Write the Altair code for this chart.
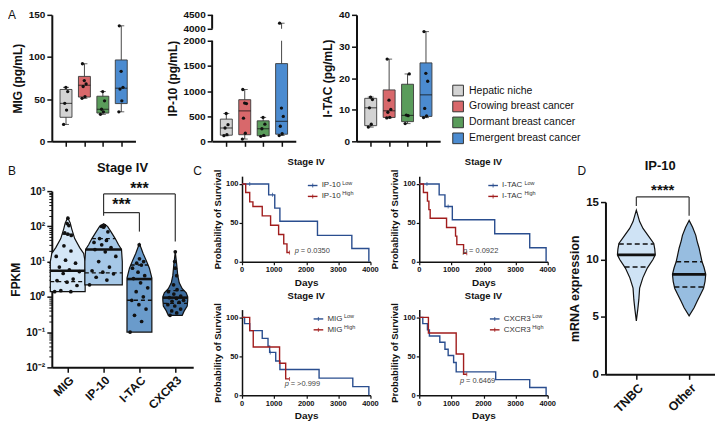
import altair as alt
import numpy as np
import pandas as pd

FONT = "Liberation Sans"
INK = "#111111"
BLUE = "#2a4e8f"
RED = "#a11d1d"

# ---------------- A: chemokine levels (pg/mL) ----------------
groups = ["Hepatic niche", "Growing breast cancer", "Dormant breast cancer", "Emergent breast cancer"]
group_colors = ["#d3d3d3", "#d8686b", "#5a9c5b", "#4b8bd0"]

mig_hepatic = [64, 59, 45, 37, 20]
mig_growing = [92, 72, 68, 65, 53, 51]
mig_dormant = [59, 48, 38, 35, 32]
mig_emergent = [137, 83, 64, 62, 48, 35]

ip10_hepatic = [553, 330, 265, 132, 112]
ip10_growing = [1030, 760, 750, 460, 160, 45]
ip10_dormant = [475, 340, 250, 120, 100]
ip10_emergent = [4200, 660, 495, 300, 150, 115]

itac_hepatic = [14, 13.2, 10.6, 5.4, 4.5]
itac_growing = [26, 13, 10.1, 9.2, 7.6, 7.4]
itac_dormant = [21.3, 8.3, 8.1, 5.6]
itac_emergent = [34.7, 21.5, 19, 10.4, 8, 7.5]

mig_ticks = [0, 50, 100, 150]
ip10_ticks = [0, 500, 1000, 1500, 2000, 4000, 4500]
ip10_break = [2000, 4000]
itac_ticks = [0, 10, 20, 30, 40]

# ---------------- B: FPKM, Stage IV ----------------
chem = ["MIG", "IP-10", "I-TAC", "CXCR3"]
chem_colors = ["#d5e7f7", "#a6c8e7", "#6a9bcb", "#3d6c9d"]
fpkm_mig = [170, 120, 105, 65, 60, 55, 28, 20, 14, 11, 9, 7, 5.8, 5.2, 4.6, 3.2, 2.9, 2.6, 2.1, 1.5, 1.4, 1.4]
fpkm_ip10 = [105, 100, 95, 70, 45, 40, 35, 30, 25, 22, 19, 14, 10, 7, 5.5, 5, 4.5, 3.6, 3, 2.2]
fpkm_itac = [30, 12, 10, 9, 8, 6.5, 5, 4, 3.3, 2.5, 1.8, 1.4, 1.0, 0.8, 0.6, 0.45, 0.3, 0.2, 0.1]
fpkm_cxcr3 = [19, 10, 6.5, 4, 2.2, 1.6, 1.4, 1.2, 1.05, 0.95, 0.9, 0.8, 0.75, 0.7, 0.6, 0.55, 0.45, 0.4, 0.35, 0.3]
# violin outlines: FPKM value and half width (px)
vio_mig_v = [1.4, 3, 10, 17, 25, 45, 85, 125, 175]
vio_mig_w = [17.5, 17.5, 17.5, 16, 12, 7, 4, 2.5, 0]
vio_ip10_v = [2.2, 5, 10, 22, 30, 45, 70, 100, 118]
vio_ip10_w = [18.8, 18.8, 18.8, 18, 15, 11.7, 7.5, 4, 0]
vio_itac_v = [0.1, 0.5, 1, 3.4, 6.5, 11, 17, 25, 32]
vio_itac_w = [12.5, 12.5, 12.5, 12.5, 10, 6.7, 3.7, 1.5, 0]
vio_cxcr3_v = [0.3, 0.4, 0.55, 0.8, 1.0, 1.3, 1.7, 2.5, 4, 8, 19]
vio_cxcr3_w = [7, 9, 12, 12.5, 12.5, 11, 7, 4, 2.5, 1.5, 0]
fpkm_median = [5.5, 22, 3.2, 0.95]
fpkm_q1 = [2.7, 4.8, 0.8, 0.65]
fpkm_q3 = [60, 45, 8, 1.5]
fpkm_ticks = [0.01, 0.1, 1, 10, 100, 1000]

# ---------------- C: Kaplan-Meier, Stage IV ----------------
ip10_low_t = [0, 830, 1020, 1180, 2350, 3420, 3950]
ip10_low_s = [100, 86, 69, 52, 34, 17, 0]
ip10_high_t = [0, 115, 240, 340, 630, 890, 1140, 1300, 1400, 1480]
ip10_high_s = [100, 89, 77, 71, 59, 47, 35, 23, 12, 12]
ip10_cens_t = [240, 950, 1480]
ip10_cens_s = [100, 86, 12]
ip10_cens_arm = ["Low", "Low", "High"]

itac_low_t = [0, 620, 800, 1030, 2350, 3440, 3950]
itac_low_s = [100, 86, 71, 54, 36, 18, 0]
itac_high_t = [0, 130, 255, 300, 340, 850, 1130, 1170, 1380, 1480]
itac_high_s = [100, 89, 78, 67, 56, 44, 33, 22, 11, 11]
itac_cens_t = [240, 900, 1480]
itac_cens_s = [100, 71, 11]
itac_cens_arm = ["Low", "Low", "High"]

mig_low_t = [0, 80, 240, 630, 810, 860, 1050, 1180, 2400, 3450, 3950]
mig_low_s = [100, 92, 83, 73, 63, 55, 44, 33, 22, 11, 0]
mig_high_t = [0, 240, 350, 1170, 1360, 1480]
mig_high_s = [100, 83, 62, 41, 21, 21]
mig_cens_t = [880, 1480]
mig_cens_s = [55, 21]
mig_cens_arm = ["Low", "High"]

cxcr3_low_t = [0, 110, 255, 316, 640, 800, 900, 1070, 1150, 2380, 3440, 3950]
cxcr3_low_s = [100, 92, 84, 76, 68, 59, 51, 42, 30, 20, 10, 0]
cxcr3_high_t = [0, 285, 1150, 1380, 1480]
cxcr3_high_s = [100, 80, 53, 27, 27]
cxcr3_cens_t = [1480]
cxcr3_cens_s = [27]
cxcr3_cens_arm = ["High"]

km_day_ticks = [0, 1000, 2000, 3000, 4000]
km_surv_ticks = [0, 50, 100]

# ---------------- D: IP-10 mRNA ----------------
subtypes = ["TNBC", "Other"]
subtype_colors = ["#cfe3f5", "#97bde0"]
vio_tnbc_v = [4.65, 5.7, 6.5, 7.5, 8.4, 9.25, 10.0, 10.4, 10.9, 11.4, 12.1, 12.7, 13.3, 14.3]
vio_tnbc_w = [0, 1.5, 2.5, 3.3, 6.5, 11, 16.7, 19, 18.5, 17.5, 11.7, 6.7, 3.3, 0]
vio_other_v = [5.1, 5.8, 6.4, 7.0, 7.5, 8.1, 8.7, 9.3, 9.8, 10.4, 11.0, 11.6, 12.1, 12.8, 13.4]
vio_other_w = [0, 5, 8.3, 11.7, 14.5, 16, 16.7, 15, 13, 11.5, 10, 8, 6.7, 3.5, 0]
mrna_median = [10.4, 8.7]
mrna_q1 = [9.35, 7.6]
mrna_q3 = [11.35, 9.8]
mrna_ticks = [0, 5, 10, 15]

ONE = pd.DataFrame({"k": [0]})


def label_text(txt, dx, dy, size=12, weight="normal", align="left", baseline="top"):
    return alt.Chart(ONE).mark_text(align=align, baseline=baseline, fontSize=size, fontWeight=weight,
                                    color=INK).encode(x=alt.value(dx), y=alt.value(dy), text=alt.value(txt))


def axis_style(**kw):
    base = dict(labelFontWeight="bold", titleFontWeight="bold", labelColor=INK, titleColor=INK,
                tickColor=INK, domainColor=INK, grid=False, labelOverlap=False)
    base.update(kw)
    return alt.Axis(**base)


# ---------------- panel A builder ----------------
def box_panel(series, ytitle, yscale, yvalues, width=84, show_legend=False, gap=None, tag=None):
    pts, stats, segs = [], [], []
    for gi, (g, vals) in enumerate(zip(groups, series), start=1):
        v = np.sort(np.asarray(vals, float))
        q1, med, q3 = np.percentile(v, [25, 50, 75], method="weibull")
        stats.append(dict(group=g, gi=gi, lo=v.min(), q1=q1, med=med, q3=q3, hi=v.max()))
        if gap is not None and v.max() > gap[1]:
            segs.append(dict(gi=gi, a=v.min(), b=gap[0]))
            segs.append(dict(gi=gi, a=gap[1], b=v.max()))
        else:
            segs.append(dict(gi=gi, a=v.min(), b=v.max()))
        for i, val in enumerate(v):
            pts.append(dict(group=g, gi=gi + (((i * 0.618) % 1.0) * 2 - 1) * 0.13, value=val))
    sdf, pdf, wdf = pd.DataFrame(stats), pd.DataFrame(pts), pd.DataFrame(segs)
    xs = alt.Scale(domain=[0.5, 4.5], range=[0, 84], nice=False, zero=False)
    X = alt.X("gi:Q", scale=xs, axis=axis_style(values=[1, 2, 3, 4], labels=False, title=None,
                                                  tickSize=5, tickWidth=1.5, domainWidth=2))
    yax = axis_style(values=yvalues, title=ytitle, titleFontSize=12, labelFontSize=10, tickSize=5,
                     tickWidth=1.5, domainWidth=2, titlePadding=4, labelPadding=2, format="d",
                     domain=gap is None, labelFlush=False)

    def Y(f):
        return alt.Y(f"{f}:Q", scale=yscale, axis=yax)

    legend = None
    if show_legend:
        legend = alt.Legend(orient="none", legendX=96, legendY=70, title=None, symbolType="square",
                            symbolSize=115, symbolStrokeColor="#333333", symbolStrokeWidth=1,
                            labelFontSize=10.5, labelFont=FONT, labelColor=INK, rowPadding=0,
                            labelOffset=5, symbolOpacity=1)
    whisk = alt.Chart(wdf).mark_rule(color="#333333", strokeWidth=0.9).encode(x=X, y=Y("a"), y2="b:Q")
    caps = alt.Chart(sdf).transform_fold(["lo", "hi"], as_=["kind", "cap"]).mark_tick(
        orient="horizontal", size=6, thickness=1, color="#222222").encode(x=X, y=Y("cap"))
    box = alt.Chart(sdf).mark_bar(orient="vertical", size=12, stroke="#3a3a3a", strokeWidth=0.9).encode(
        x=X, y=Y("q1"), y2="q3:Q",
        fill=alt.Fill("group:N", scale=alt.Scale(domain=groups, range=group_colors), legend=legend))
    med = alt.Chart(sdf).mark_tick(orient="horizontal", size=12, thickness=1.1, color=INK).encode(x=X, y=Y("med"))
    dots = alt.Chart(pdf).mark_circle(size=11, color=INK, opacity=1).encode(x=X, y=Y("value"))
    layers = [whisk, caps, box, med, dots]
    if gap is not None:
        lo_tick, hi_tick = yvalues[0], yvalues[-1]
        axis_segs = pd.DataFrame({"a": [lo_tick, gap[1]], "b": [gap[0], hi_tick]})
        layers.append(alt.Chart(axis_segs).mark_rule(strokeWidth=2, color=INK).encode(
            x=alt.value(0), y=Y("a"), y2="b:Q"))
    if tag:
        layers.append(label_text(tag, -44, -5))
    return alt.layer(*layers).properties(width=width, height=127)


mig_chart = box_panel([mig_hepatic, mig_growing, mig_dormant, mig_emergent], "MIG (pg/mL)",
                      alt.Scale(domain=[0, 150], nice=False), mig_ticks, width=100, tag="A")
ip10_chart = box_panel([ip10_hepatic, ip10_growing, ip10_dormant, ip10_emergent], "IP-10 (pg/mL)",
                       alt.Scale(domain=[0, 2000, 4000, 4500], range=[127, 26, 14, 0], nice=False, zero=False),
                       ip10_ticks, gap=ip10_break)
itac_chart = box_panel([itac_hepatic, itac_growing, itac_dormant, itac_emergent], "I-TAC (pg/mL)",
                       alt.Scale(domain=[0, 40], nice=False), itac_ticks, show_legend=True)


# ---------------- violin builder (B and D) ----------------
def violin_frames(cats, colors, prof_v, prof_w, med, q1, q3, ppu, logy, points=None):
    rows, lines, dots = [], [], []
    for pos, (c, col, pv, pw) in enumerate(zip(cats, colors, prof_v, prof_w), start=1):
        tv = np.log10(pv) if logy else np.asarray(pv, float)
        for v, w in zip(pv, pw):
            rows.append(dict(cat=c, col=col, v=v, xl=pos - w / ppu, xr=pos + w / ppu))
        for kind, val in (("med", med[pos - 1]), ("q", q1[pos - 1]), ("q", q3[pos - 1])):
            w = float(np.interp(np.log10(val) if logy else val, tv, pw))
            lines.append(dict(cat=c, kind=kind, v=val, xl=pos - w / ppu, xr=pos + w / ppu))
        if points is not None:
            for i, val in enumerate(sorted(points[pos - 1])):
                w = float(np.interp(np.log10(val), tv, pw))
                j = (((i * 0.618) % 1.0) * 2 - 1) * 0.75 * w / ppu
                dots.append(dict(cat=c, v=val, x=pos + j))
    return pd.DataFrame(rows), pd.DataFrame(lines), pd.DataFrame(dots)


# ---------------- panel B ----------------
ppu_b = 36.0
vdf, ldf, ddf = violin_frames(chem, chem_colors,
                              [vio_mig_v, vio_ip10_v, vio_itac_v, vio_cxcr3_v],
                              [vio_mig_w, vio_ip10_w, vio_itac_w, vio_cxcr3_w],
                              fpkm_median, fpkm_q1, fpkm_q3, ppu_b, True,
                              [fpkm_mig, fpkm_ip10, fpkm_itac, fpkm_cxcr3])
B_W, B_H = 142, 86
xb_scale = alt.Scale(domain=[0.556, 0.556 + B_W / ppu_b], nice=False, zero=False)
xb_axis = axis_style(values=[1, 2, 3, 4], title=None, labelAngle=-45, labelFontSize=12, tickSize=5,
                     tickWidth=1.5, domainWidth=2, labelPadding=2, offset=192 - B_H,
                     labelExpr="['', 'MIG', 'IP-10', 'I-TAC', 'CXCR3'][datum.value]")
yb_scale = alt.Scale(type="log", domain=[0.01, 1000], range=[192, 15], nice=False)
yb_axis = axis_style(values=fpkm_ticks, title="FPKM", titleFontSize=12, labelFontSize=10.5, tickSize=5,
                     tickWidth=1.5, domainWidth=2, titlePadding=3, labelPadding=2,
                     labelExpr="datum.value > 500 ? '10³' : datum.value > 50 ? '10²' : datum.value > 5 ? '10¹' : datum.value > 0.5 ? '10⁰' : datum.value > 0.05 ? '10⁻¹' : '10⁻²'")


def XB(f):
    return alt.X(f"{f}:Q", scale=xb_scale, axis=xb_axis, stack=None)


def YB(f):
    return alt.Y(f"{f}:Q", scale=yb_scale, axis=yb_axis)


b_area = alt.Chart(vdf).mark_area(orient="horizontal", stroke=INK, strokeWidth=1.2, opacity=1).encode(
    y=YB("v"), x=XB("xl"), x2="xr:Q", detail="cat:N", fill=alt.Fill("col:N", scale=None))
b_q = alt.Chart(ldf).transform_filter("datum.kind == 'q'").mark_rule(
    color=INK, strokeWidth=1.3, strokeDash=[4, 3]).encode(x=XB("xl"), x2="xr:Q", y=YB("v"))
b_med = alt.Chart(ldf).transform_filter("datum.kind == 'med'").mark_rule(
    color=INK, strokeWidth=2.6).encode(x=XB("xl"), x2="xr:Q", y=YB("v"))
b_dots = alt.Chart(ddf).mark_circle(size=14, color=INK, opacity=1).encode(x=XB("x"), y=YB("v"))
# significance brackets
br_h = pd.DataFrame({"x1": [2, 2], "x2": [4, 3], "y": [830, 245]})
br_v = pd.DataFrame({"x": [2, 4, 3], "y1": [830, 830, 245], "y2": [200, 37, 71]})
br_t = pd.DataFrame({"x": [3, 2.5], "y": [1150, 400], "t": ["***", "***"]})
b_brh = alt.Chart(br_h).mark_rule(color="#333333", strokeWidth=1.2).encode(x=XB("x1"), x2="x2:Q", y=YB("y"))
b_brv = alt.Chart(br_v).mark_rule(color="#333333", strokeWidth=1.2).encode(x=XB("x"), y=YB("y1"), y2="y2:Q")
b_brt = alt.Chart(br_t).mark_text(fontSize=16, fontWeight="bold", color=INK, baseline="middle").encode(
    x=XB("x"), y=YB("y"), text="t:N")
minor = pd.DataFrame({"m": [b * m for b in [0.01, 0.1, 1, 10, 100] for m in range(2, 10)]})
b_minor = alt.Chart(minor).mark_point(opacity=0).encode(
    x=alt.value(0),
    y=alt.Y("m:Q", scale=yb_scale, axis=alt.Axis(orient="left", values=list(minor["m"]), labels=False,
                                                 domain=False, tickSize=3, tickWidth=1, tickColor=INK,
                                                 title=None, grid=False)))
b_main = alt.layer(b_area, b_q, b_med, b_dots, b_brh, b_brv, b_brt,
                   label_text("B", -44, -10),
                   label_text("Stage IV", B_W / 2.0, -8, size=13, weight="bold", align="center", baseline="middle"))
b_chart = alt.layer(b_main, b_minor).resolve_axis(y="independent").properties(width=B_W, height=B_H)


# ---------------- panel C ----------------
def text_width(s, size):
    w = {"I": 278, "P": 667, "-": 333, "1": 556, "0": 556, "T": 611, "A": 667, "C": 722,
         "M": 833, "G": 778, "X": 667, "R": 722, "3": 556}
    return sum(w.get(ch, 556) for ch in s) * size / 1000.0


KM_H = 86


def km_panel(name, lt, ls, ht, hs, ct, cs, ca, pval, px, py, leg_x, cell_w=129, tag=None):
    line_df = pd.DataFrame({"t": lt + ht, "s": ls + hs, "arm": ["Low"] * len(lt) + ["High"] * len(ht)})
    cens_df = pd.DataFrame({"t": ct, "s": cs, "arm": ca})
    col = alt.Color("arm:N", scale=alt.Scale(domain=["Low", "High"], range=[BLUE, RED]), legend=None)
    xs = alt.Scale(domain=[0, 4000], range=[0, 129], nice=False)
    ys = alt.Scale(domain=[0, 110], nice=False)
    dpp = 4000 / 129.0
    xax = axis_style(values=km_day_ticks, title="Days", titleFontSize=10, labels=False, tickSize=3,
                     tickWidth=1.2, domainWidth=1.5, titlePadding=12)
    yax = axis_style(values=km_surv_ticks, title="Probability of Survival", titleFontSize=9.5,
                     labelFontSize=7.5, tickSize=3, tickWidth=1.2, domainWidth=1.5, titlePadding=3,
                     labelPadding=1, format="d")

    def X(f):
        return alt.X(f"{f}:Q", scale=xs, axis=xax)

    def Y(f):
        return alt.Y(f"{f}:Q", scale=ys, axis=yax)

    lines = alt.Chart(line_df).mark_line(interpolate="step-after", strokeWidth=1.4).encode(
        x=X("t"), y=Y("s"), color=col, detail="arm:N")
    cens = alt.Chart(cens_df).mark_tick(orient="vertical", size=4, thickness=1).encode(
        x=X("t"), y=Y("s"), color=col)
    tick_lab = alt.Chart(pd.DataFrame({"d": km_day_ticks})).mark_text(
        baseline="top", fontSize=7.5, fontWeight="bold", color=INK).encode(
        x=X("d"), y=alt.value(KM_H + 4.5), text=alt.Text("d:Q", format="d"))
    leg_df = pd.DataFrame({"arm": ["Low", "High"], "s": [98, 84],
                           "a": [leg_x, leg_x], "b": [leg_x + 300, leg_x + 300],
                           "m": [leg_x + 150, leg_x + 150]})
    leg_line = alt.Chart(leg_df).mark_rule(strokeWidth=1.4).encode(x=X("a"), x2="b:Q", y=Y("s"), color=col)
    leg_tick = alt.Chart(leg_df).mark_tick(orient="vertical", size=4, thickness=1.2).encode(
        x=X("m"), y=Y("s"), color=col)
    tx = leg_x + 430
    leg_txt = alt.Chart(leg_df).transform_calculate(tx=str(tx)).mark_text(
        align="left", baseline="middle", fontSize=8, color="#333333").encode(
        x=X("tx"), y=Y("s"), text=alt.value(name))
    sup_x = tx + (text_width(name, 8) + 1.5) * dpp
    leg_sup = alt.Chart(leg_df).transform_calculate(sx=str(sup_x)).mark_text(
        align="left", baseline="middle", fontSize=5.5, dy=-3, color="#333333").encode(
        x=X("sx"), y=Y("s"), text="arm:N")
    p_df = pd.DataFrame({"x": [px, px + 6 * dpp], "y": [py, py], "t": ["p", "= " + pval],
                         "st": ["italic", "normal"]})
    p_it = alt.Chart(p_df).transform_filter("datum.st == 'italic'").mark_text(
        align="left", baseline="middle", fontSize=7.5, fontStyle="italic", color="#444444").encode(
        x=X("x"), y=Y("y"), text="t:N")
    p_no = alt.Chart(p_df).transform_filter("datum.st == 'normal'").mark_text(
        align="left", baseline="middle", fontSize=7.5, color="#444444").encode(
        x=X("x"), y=Y("y"), text="t:N")
    layers = [lines, cens, tick_lab, leg_line, leg_tick, leg_txt, leg_sup, p_it, p_no,
              label_text("Stage IV", 64.5, -14, size=9.5, weight="bold", align="center", baseline="middle")]
    if tag:
        layers.append(label_text(tag, -49, -10))
    return alt.layer(*layers).properties(width=cell_w, height=KM_H)


km1 = km_panel("IP-10", ip10_low_t, ip10_low_s, ip10_high_t, ip10_high_s, ip10_cens_t, ip10_cens_s,
               ip10_cens_arm, "0.0350", 1640, 14, 2050, tag="C")
km2 = km_panel("I-TAC", itac_low_t, itac_low_s, itac_high_t, itac_high_s, itac_cens_t, itac_cens_s,
               itac_cens_arm, "0.0922", 1365, 14, 2150, cell_w=138)
km3 = km_panel("MIG", mig_low_t, mig_low_s, mig_high_t, mig_high_s, mig_cens_t, mig_cens_s,
               mig_cens_arm, ">0.999", 1330, 14, 2230)
km4 = km_panel("CXCR3", cxcr3_low_t, cxcr3_low_s, cxcr3_high_t, cxcr3_high_s, cxcr3_cens_t, cxcr3_cens_s,
               cxcr3_cens_arm, "0.6469", 1270, 18, 2200, cell_w=138)

# ---------------- panel D ----------------
ppu_d = 53.0
D_W, D_H = 110, 86
vdf_d, ldf_d, _ = violin_frames(subtypes, subtype_colors, [vio_tnbc_v, vio_other_v], [vio_tnbc_w, vio_other_w],
                                mrna_median, mrna_q1, mrna_q3, ppu_d, False)
xd_scale = alt.Scale(domain=[0.415, 0.415 + D_W / ppu_d], nice=False, zero=False)
xd_axis = axis_style(values=[1, 2], title=None, labelAngle=-45, labelFontSize=12.5, tickSize=5, tickWidth=1.5,
                     domainWidth=2, labelPadding=2, offset=199 - D_H,
                     labelExpr="['', 'TNBC', 'Other'][datum.value]")
yd_scale = alt.Scale(domain=[0, 15], range=[199, 26], nice=False)
yd_axis = axis_style(values=mrna_ticks, title="mRNA expression", titleFontSize=12.5, labelFontSize=11.5,
                     tickSize=5, tickWidth=1.5, domainWidth=2, titlePadding=4, labelPadding=2)


def XD(f):
    return alt.X(f"{f}:Q", scale=xd_scale, axis=xd_axis, stack=None)


def YD(f):
    return alt.Y(f"{f}:Q", scale=yd_scale, axis=yd_axis)


d_area = alt.Chart(vdf_d).mark_area(orient="horizontal", stroke=INK, strokeWidth=1.2, opacity=1).encode(
    y=YD("v"), x=XD("xl"), x2="xr:Q", detail="cat:N", fill=alt.Fill("col:N", scale=None))
d_q = alt.Chart(ldf_d).transform_filter("datum.kind == 'q'").mark_rule(
    color=INK, strokeWidth=1.4, strokeDash=[5, 3]).encode(x=XD("xl"), x2="xr:Q", y=YD("v"))
d_med = alt.Chart(ldf_d).transform_filter("datum.kind == 'med'").mark_rule(
    color=INK, strokeWidth=2.8).encode(x=XD("xl"), x2="xr:Q", y=YD("v"))
dbr_h = pd.DataFrame({"x1": [1], "x2": [2], "y": [15.45]})
dbr_v = pd.DataFrame({"x": [1, 2], "y1": [15.45, 15.45], "y2": [14.65, 13.8]})
dbr_t = pd.DataFrame({"x": [1.5], "y": [16.05], "t": ["****"]})
d_brh = alt.Chart(dbr_h).mark_rule(color="#333333", strokeWidth=1.2).encode(x=XD("x1"), x2="x2:Q", y=YD("y"))
d_brv = alt.Chart(dbr_v).mark_rule(color="#333333", strokeWidth=1.2).encode(x=XD("x"), y=YD("y1"), y2="y2:Q")
d_brt = alt.Chart(dbr_t).mark_text(fontSize=15, fontWeight="bold", color=INK, baseline="middle").encode(
    x=XD("x"), y=YD("y"), text="t:N")
d_chart = alt.layer(d_area, d_q, d_med, d_brh, d_brv, d_brt, label_text("D", -28, -10),
                    label_text("IP-10", D_W / 2.0, -10, size=13, weight="bold", align="center",
                               baseline="middle")).properties(width=D_W, height=D_H)

blank_b = alt.Chart(ONE).mark_text(text="").encode(x=alt.value(0), y=alt.value(0)).properties(width=B_W, height=86)
blank_d = alt.Chart(ONE).mark_text(text="").encode(x=alt.value(0), y=alt.value(0)).properties(width=D_W, height=86)

# ---------------- layout ----------------
RES = dict(fill="independent", color="independent")
row1 = alt.hconcat(mig_chart, ip10_chart, itac_chart, spacing=61, bounds="flush").resolve_scale(**RES)
row2 = alt.concat(b_chart, km1, km2, d_chart, blank_b, km3, km4, blank_d, columns=4,
                  spacing={"row": 48, "column": 49}, bounds="flush").resolve_scale(**RES)
chart = alt.vconcat(row1, row2, spacing=10).resolve_scale(**RES).properties(
    padding=0, background="white"
).configure_view(stroke=None).configure_axis(labelFont=FONT, titleFont=FONT).configure_title(
    font=FONT).configure_text(font=FONT).configure_legend(labelFont=FONT)

chart.save("out.html", embed_options={"renderer": "svg", "actions": False})
